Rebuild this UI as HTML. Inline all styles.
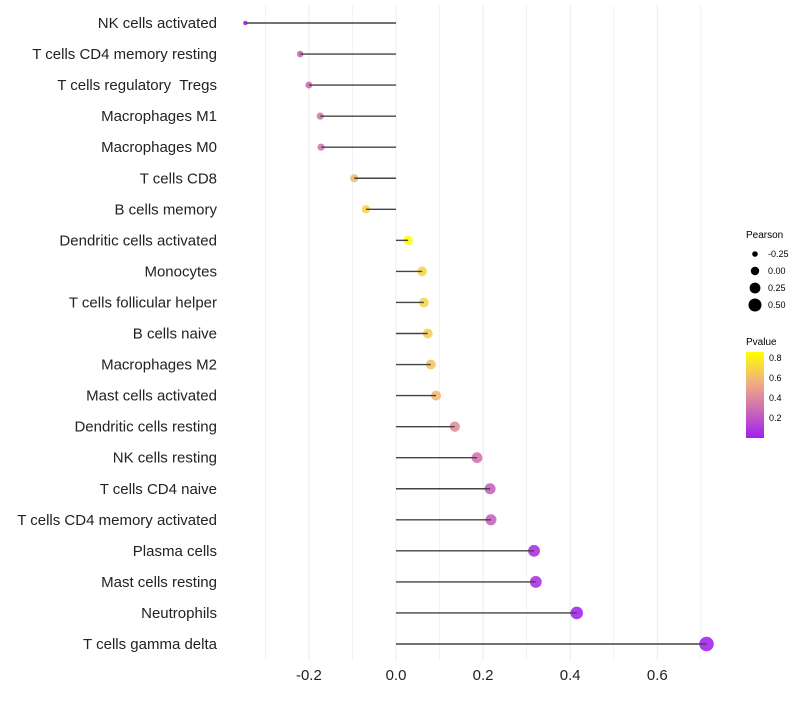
<!DOCTYPE html>
<html><head><meta charset="utf-8"><style>
body{margin:0;background:#fff;font-family:"Liberation Sans",sans-serif}
text{white-space:pre}
</style></head><body>
<svg id="chart" width="800" height="700" xmlns="http://www.w3.org/2000/svg">
<defs><linearGradient id="pg" x1="0" y1="1" x2="0" y2="0">
<stop offset="0" stop-color="#a020f0"/><stop offset="0.35" stop-color="#d070b0"/><stop offset="0.65" stop-color="#f0b080"/><stop offset="1" stop-color="#ffff00"/></linearGradient></defs>
<g id="grid"></g><g id="marks"></g><g id="labels"></g>
<g font-size="9">
<text x="746" y="238" font-size="10">Pearson</text>
<circle cx="755" cy="254" r="2.8"/><text x="768" y="257">-0.25</text>
<circle cx="755" cy="271" r="4.2"/><text x="768" y="274">0.00</text>
<circle cx="755" cy="288" r="5.4"/><text x="768" y="291">0.25</text>
<circle cx="755" cy="305" r="6.5"/><text x="768" y="308">0.50</text>
</g>
<g font-size="9">
<text x="746" y="345" font-size="10">Pvalue</text>
<rect x="746" y="352" width="18" height="86" fill="url(#pg)"/>
<text x="769" y="361">0.8</text><text x="769" y="381">0.6</text><text x="769" y="401">0.4</text><text x="769" y="421">0.2</text>
</g>
</svg>
<script>
const cells=["NK cells activated","T cells CD4 memory resting","T cells regulatory  Tregs","Macrophages M1","Macrophages M0","T cells CD8","B cells memory","Dendritic cells activated","Monocytes","T cells follicular helper","B cells naive","Macrophages M2","Mast cells activated","Dendritic cells resting","NK cells resting","T cells CD4 naive","T cells CD4 memory activated","Plasma cells","Mast cells resting","Neutrophils","T cells gamma delta"];
const pearson=[-0.346,-0.22,-0.20,-0.174,-0.172,-0.096,-0.069,0.028,0.060,0.064,0.073,0.080,0.092,0.135,0.186,0.216,0.218,0.317,0.321,0.415,0.713];
const pvalue=[0.1,0.3,0.32,0.36,0.36,0.6,0.7,0.85,0.7,0.7,0.68,0.65,0.6,0.45,0.35,0.28,0.28,0.12,0.12,0.08,0.07];
const xTicks=[-0.2,0,0.2,0.4,0.6];
const xTickLabels=["-0.2","0.0","0.2","0.4","0.6"];
const NS="http://www.w3.org/2000/svg";
const x=v=>396+v*435.5;
const y=i=>23+i*31.05;
const r=v=>Math.sqrt(5+(v+0.35)*45);
function col(p){const t=Math.max(0,Math.min(1,(p-0.07)/(0.85-0.07)));
const st=[[0,[160,32,240]],[0.35,[208,112,176]],[0.65,[240,176,128]],[1,[255,255,0]]];
for(let k=0;k<3;k++){const[a,c1]=st[k],[b,c2]=st[k+1];if(t<=b){const f=(t-a)/(b-a);return`rgb(${c1.map((c,j)=>Math.round(c+(c2[j]-c)*f)).join(',')})`;}}return"rgb(255,255,0)";}
function mk(tag,attrs,parent){const e=document.createElementNS(NS,tag);for(const k in attrs)e.setAttribute(k,attrs[k]);document.getElementById(parent).appendChild(e);return e;}
for(let g=-3;g<=7;g++){const e=mk('line',{x1:x(g/10),x2:x(g/10),y1:5,y2:660,stroke:'#ebebeb','stroke-width':g%2===0?1:0.6},'grid');

}
xTicks.forEach((t,i)=>{const e=mk('text',{x:x(t),y:680,'text-anchor':'middle','font-size':15,fill:'#222'},'labels');e.textContent=xTickLabels[i];

});
cells.forEach((c,i)=>{
const t=mk('text',{x:217,y:y(i)+5,'text-anchor':'end','font-size':15,fill:'#222'},'labels');t.textContent=c;


const p=mk('circle',{cx:x(pearson[i]),cy:y(i),r:r(pearson[i]),fill:col(pvalue[i]),'fill-opacity':0.88},'marks');


const l=mk('line',{x1:x(0),x2:x(pearson[i]),y1:y(i),y2:y(i),stroke:'#444','stroke-width':1.4},'marks');


});
</script>
</body></html>
